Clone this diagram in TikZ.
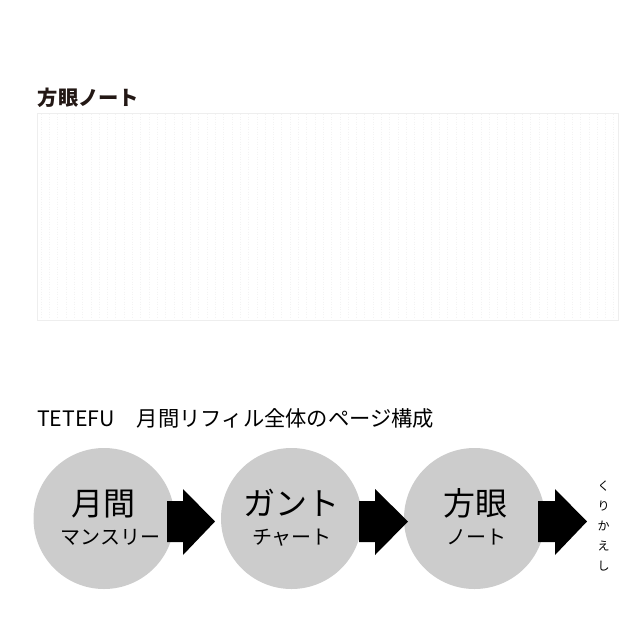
\documentclass[tikz,border=0pt]{standalone}
\usepackage{fontspec}
\setmainfont{Noto Sans CJK JP}
\definecolor{inkdark}{HTML}{231815}
\definecolor{bubblegray}{HTML}{CCCCCC}
\definecolor{gridgray}{HTML}{F3F3F3}
\definecolor{framegray}{HTML}{EEEEEE}
\newcommand{\blockarr}[3]{\fill[blockarrow] (#1,501) -- (#2,501) -- (#2,489) -- (#3,521.5) -- (#2,555) -- (#2,542) -- (#1,542) -- cycle;}
\begin{document}
\begin{tikzpicture}[x=1pt,y=-1pt,
  bubble/.style={circle, fill=bubblegray, minimum size=141pt, inner sep=0pt},
  bigtxt/.style={anchor=base, inner sep=0pt, font=\fontsize{32}{36}\selectfont, text=black},
  smalltxt/.style={anchor=base, inner sep=0pt, font=\fontsize{20}{24}\selectfont, text=black},
  blockarrow/.style={fill=black},
  gridline/.style={draw=gridgray, line width=0.6pt, dash pattern=on 1pt off 1.5pt},
  gridframe/.style={draw=framegray, line width=0.8pt}]
\useasboundingbox (0,0) rectangle (640,640);
\fill[white] (0,0) rectangle (640,640);
% title of grid note
\node[anchor=base west, inner sep=0pt, font=\fontsize{20.3}{23}\selectfont\bfseries, text=inkdark] (gtitle) at (37.5,105.5) {方眼ノート};
% grid area
\foreach \i in {0,...,69} \draw[gridline] ({41+\i*8.3},114) -- ({41+\i*8.3},319);
\draw[gridframe] (37,113) rectangle (618,320);
% section title
\node[anchor=base west, inner sep=0pt, font=\fontsize{21.3}{24}\selectfont, text=black] (stitle) at (37,426.5) {TETEFU\hspace{22pt}月間リフィル全体のページ構成};
% bubbles
\node[bubble] (c1) at (104,518.5) {};
\node[bubble] (c2) at (291.5,518.5) {};
\node[bubble] (c3) at (474.5,518.5) {};
\node[bigtxt] (t1a) at (103,515) {月間};
\node[smalltxt] (t1b) at (110.5,544.5) {マンスリー};
\node[bigtxt] (t2a) at (291,515) {ガント};
\node[smalltxt] (t2b) at (292,544.5) {チャート};
\node[bigtxt] (t3a) at (475.5,515) {方眼};
\node[smalltxt] (t3b) at (476.5,544.5) {ノート};
% arrows
\blockarr{167}{183}{215}
\blockarr{359}{375}{408}
\blockarr{538}{555}{587}
% repeat label
\node[align=center, inner sep=0pt, font=\fontsize{12}{20}\selectfont, text=black] (rep) at (603.5,526) {く\\り\\か\\え\\し};
\end{tikzpicture}
\end{document}
